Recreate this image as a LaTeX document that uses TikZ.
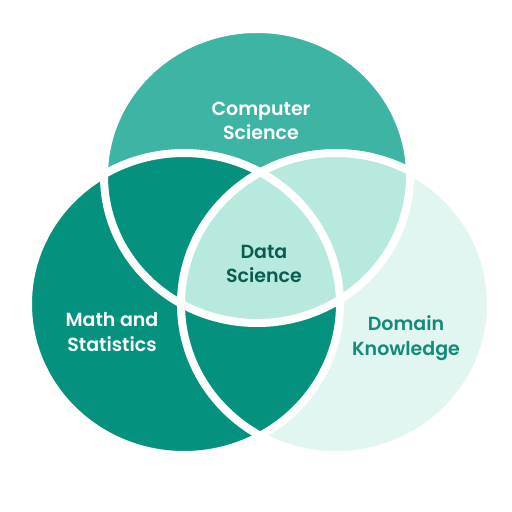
\documentclass[tikz,border=0pt]{standalone}
\usepackage{fontspec}
\newfontfamily\vennfont{Poppins SemiBold}
\definecolor{csfill}{HTML}{3EB4A4}
\definecolor{darkfill}{HTML}{04917E}
\definecolor{midfill}{HTML}{B8E9DF}
\definecolor{domfill}{HTML}{E1F5F1}
\definecolor{dstext}{HTML}{0A5C50}
\definecolor{domtext}{HTML}{138A7A}
\begin{document}
\begin{tikzpicture}[x=1pt,y=-1pt,
  lbl/.style={align=center,font=\vennfont\fontsize{19}{24.5}\selectfont,inner sep=0pt},
  ring/.style={draw=white,line width=8pt}]
\useasboundingbox (0,0) rectangle (512,512);
\coordinate (cs) at (257,176);
\coordinate (ma) at (184,304);
\coordinate (dk) at (336,304);
\fill[csfill] (cs) ellipse [x radius=153pt,y radius=147pt];
\fill[domfill] (dk) ellipse [x radius=155pt,y radius=151pt];
\fill[darkfill] (ma) ellipse [x radius=156pt,y radius=151pt];
\begin{scope}
  \clip (cs) ellipse [x radius=153pt,y radius=147pt];
  \fill[midfill] (dk) ellipse [x radius=155pt,y radius=151pt];
\end{scope}
\draw[ring] (cs) ellipse [x radius=153pt,y radius=147pt];
\draw[ring] (ma) ellipse [x radius=156pt,y radius=151pt];
\draw[ring] (dk) ellipse [x radius=155pt,y radius=151pt];
\node[lbl,text=white] (tcs) at (261,121) {Computer\\Science};
\node[lbl,text=dstext] (tds) at (264,264) {Data\\Science};
\node[lbl,text=white] (tma) at (112,332) {Math and\\Statistics};
\node[lbl,text=domtext] (tdk) at (406,338) {Domain\\Knowledge};
\end{tikzpicture}
\end{document}
